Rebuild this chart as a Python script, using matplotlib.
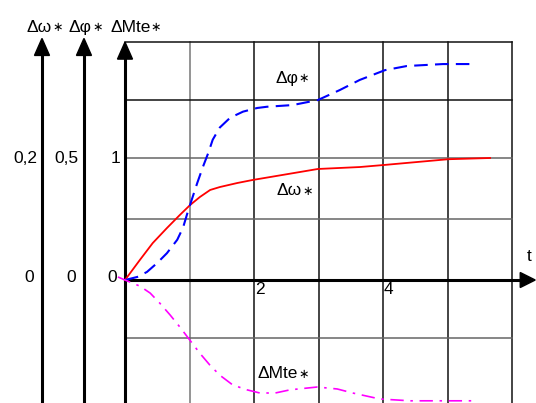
import matplotlib
matplotlib.use("Agg")
import matplotlib.pyplot as plt
from matplotlib.patches import Polygon

plt.rcParams['font.family'] = ['Liberation Sans', 'DejaVu Sans']

# time axis, one grid cell = 1
t_omega = [0, 0.23, 0.43, 0.65, 0.85, 1.01, 1.16, 1.32, 1.47, 1.74, 1.98, 2.25,
           2.99, 3.64, 4.02, 5.01, 5.66]
d_omega = [0, 0.164, 0.303, 0.426, 0.533, 0.615, 0.68, 0.738, 0.762, 0.795, 0.82,
           0.844, 0.91, 0.926, 0.943, 0.99, 1.0]

t_phi = [0, 0.19, 0.34, 0.50, 0.65, 0.81, 0.90, 0.98, 1.12, 1.21, 1.29, 1.36, 1.47,
         1.63, 1.83, 2.05, 2.20, 2.60, 2.99, 3.33, 3.64, 4.03, 4.37, 4.93, 5.40]
d_phi = [0, 0.025, 0.066, 0.14, 0.22, 0.33, 0.43, 0.57, 0.795, 0.93, 1.04, 1.15,
         1.25, 1.33, 1.38, 1.41, 1.42, 1.434, 1.475, 1.557, 1.64, 1.72, 1.754,
         1.77, 1.77]

t_mte = [-0.11, 0, 0.23, 0.39, 0.54, 0.70, 0.85, 0.98, 1.16, 1.32, 1.47, 1.67, 1.89,
         2.09, 2.33, 2.56, 2.98, 3.29, 3.53, 3.95, 4.42, 4.99, 5.47]
d_mte = [0.025, 0, -0.05, -0.107, -0.19, -0.287, -0.385, -0.475, -0.60, -0.70,
         -0.78, -0.86, -0.90, -0.926, -0.926, -0.90, -0.877, -0.893, -0.926,
         -0.975, -0.99, -0.99, -0.99]

grid_t = [1, 2, 3, 4, 5, 6]
grid_y = [-0.475, 0.5, 1.0, 1.475, 1.95]
grid_col = ['#666666', '#666666', '#666666', '#111111', '#111111']
vgrid_col = ['#777777', '#111111', '#111111', '#111111', '#111111', '#111111']

x_ticks = [2, 4]
axis_pos = [-1.287, -0.636, 0.0]
axis_names = ['Δω', 'Δφ', 'ΔMte']
one_labels = ['0,2', '0,5', '1']

fig = plt.figure(figsize=(5.36, 4.03), dpi=100)
ax = fig.add_axes([0, 0, 1, 1])
ax.set_xlim(-1.938, 6.372)
ax.set_ylim(-1.008, 2.295)
ax.axis('off')


def star_label(x, y, s, ha='left'):
    # name followed by a small asterisk
    txt = ax.text(x, y, s, ha=ha, va='center', fontsize=12.5)
    ax.annotate('∗', xy=(1, 0.45), xycoords=txt, xytext=(0.3, 0),
                textcoords='offset points', ha='left', va='center', fontsize=9)
    return txt


ymin = -1.008
# grid
for t, c in zip(grid_t, vgrid_col):
    ax.plot([t, t], [ymin, 1.95], color=c, lw=1.1, zorder=1)
for y, c in zip(grid_y, grid_col):
    ax.plot([0, 6], [y, y], color=c, lw=1.1, zorder=1)

# vertical axes with arrows
px_x = 64.5  # pixels per unit in x
px_y = 122.0
hw = 7.5 / px_x
hh = 17 / px_y
for i, xa in enumerate(axis_pos):
    tip = 1.95 if i == 2 else 1.98
    ax.plot([xa, xa], [ymin, tip - hh], color='black', lw=2.2, zorder=3)
    ax.add_patch(Polygon([[xa - hw, tip - hh], [xa + hw, tip - hh], [xa, tip]],
                         closed=True, color='black', zorder=3))
    ax.text(xa - 8 / px_x, 0.02, '0', ha='right', va='center', fontsize=12.5)
    ax.text(xa - 5 / px_x, 1.0, one_labels[i], ha='right', va='center', fontsize=12.5)
    star_label(xa - 15 / px_x, 2.07, axis_names[i])

# horizontal axis
xtip = 6.36
ax.plot([0, xtip - 15 / px_x], [0, 0], color='black', lw=2.2, zorder=3)
ax.add_patch(Polygon([[xtip - 15 / px_x, 7.5 / px_y], [xtip - 15 / px_x, -7.5 / px_y],
                      [xtip, 0]], closed=True, color='black', zorder=3))
for xt in x_ticks:
    ax.text(xt + 0.01, -0.08, str(xt), ha='left', va='center', fontsize=12.5)
ax.text(6.27, 0.19, 't', ha='center', va='center', fontsize=12.5)

# curves
ax.plot(t_omega, d_omega, color='red', lw=1.3, zorder=4)
ax.plot(t_phi, d_phi, color='blue', lw=1.5, dashes=(6.5, 3.5), zorder=4)
ax.plot(t_mte, d_mte, color='magenta', lw=1.2, dashes=(8, 4, 1.5, 4), zorder=4)

star_label(2.33, 1.65, 'Δφ')
star_label(2.35, 0.73, 'Δω')
star_label(2.06, -0.77, 'ΔMte')

fig.savefig('out.png', dpi=100)
